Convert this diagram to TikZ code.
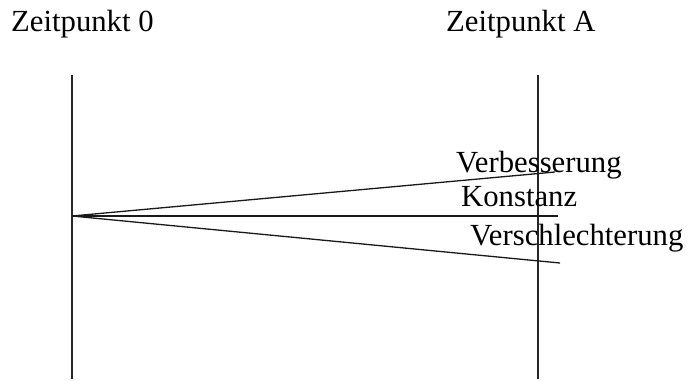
\documentclass[tikz,border=0pt]{standalone}
\usepackage{fontspec}
\setmainfont{Liberation Serif}
\begin{document}
\begin{tikzpicture}[x=1pt,y=-1pt,
  axis/.style={line width=1.5pt, draw=black!85},
  trend/.style={line width=1.3pt, draw=black!90},
  lbl/.style={anchor=base west, inner sep=0pt, font=\fontsize{30.7}{33}\selectfont}]
  \useasboundingbox (0,0) rectangle (690,380);

  % time axes
  \coordinate (t0top) at (72,75);
  \coordinate (t0bot) at (72,379);
  \coordinate (tAtop) at (538,75);
  \coordinate (tAbot) at (538,379);
  \draw[axis] (t0top) -- (t0bot);
  \draw[axis] (tAtop) -- (tAbot);

  % headings
  \node[lbl] (h0) at (11,31) {Zeitpunkt 0};
  \node[lbl] (hA) at (446,31) {Zeitpunkt A};

  % development from the start point
  \coordinate (start) at (72,216);
  \coordinate (up) at (555,172);
  \coordinate (flat) at (558,216);
  \coordinate (down) at (560,263);
  \draw[trend] (start) -- (up);
  \draw[trend] (start) -- (flat);
  \draw[trend] (start) -- (down);

  % outcome labels
  \node[lbl] (verb) at (456,172) {Verbesserung};
  \node[lbl] (konst) at (461,206) {Konstanz};
  \node[lbl] (versch) at (470,245) {Verschlechterung};
\end{tikzpicture}
\end{document}
